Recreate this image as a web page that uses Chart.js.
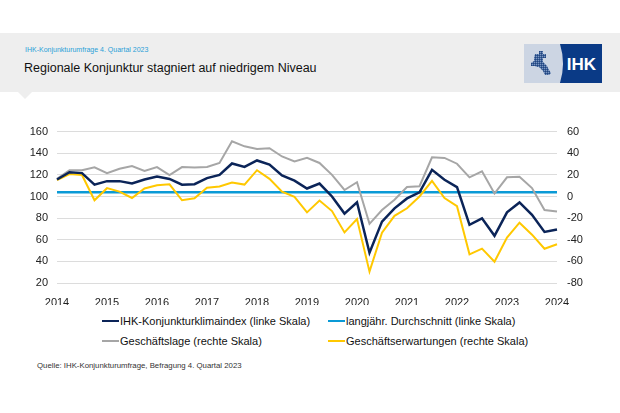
<!DOCTYPE html>
<html lang="de">
<head>
<meta charset="utf-8">
<script src="https://cdn.jsdelivr.net/npm/chart.js@4"></script>
<style>
    body { margin: 0; width: 620px; height: 413px; background: #fff; font-family: "Liberation Sans", Arial, sans-serif; position: relative; overflow: hidden; }
    .band { position: absolute; left: 0; top: 33px; width: 620px; height: 59px; background: #eeeeee; }
    .pointer { position: absolute; left: 18px; top: 92px; width: 0; height: 0; border-left: 7px solid transparent; border-right: 7px solid transparent; border-top: 7px solid #eeeeee; }
    .subtitle { position: absolute; left: 25px; top: 46px; font-size: 7px; color: #2a9fd8; }
    .title { position: absolute; left: 24px; top: 61px; font-size: 12.5px; color: #111; }
    .logo { position: absolute; left: 524px; top: 44px; width: 78px; height: 39px; background: #ccd5e3; overflow: hidden; }
    .chart-box { position: absolute; left: 0; top: 115px; width: 620px; height: 190px; }
    .legend { position: absolute; font-size: 11px; color: #111; }
    .legend span.line { display: inline-block; width: 17px; height: 2.5px; vertical-align: middle; margin-right: 1px; position: relative; top: -1px; }
    .source { position: absolute; left: 37px; top: 361px; font-size: 7.8px; color: #333; }
</style>
</head>
<body>
<div class="band"></div>
<div class="pointer"></div>
<div class="subtitle">IHK-Konjunkturumfrage 4. Quartal 2023</div>
<div class="title">Regionale Konjunktur stagniert auf niedrigem Niveau</div>
<div class="logo">
    <svg width="78" height="39" viewBox="0 0 78 39">
        <defs>
            <pattern id="px" width="2" height="2" patternUnits="userSpaceOnUse">
                <rect width="2" height="2" fill="#3b5f98"/>
                <rect width="1" height="1" fill="#7d97c0"/>
                <rect x="1" y="1" width="1" height="1" fill="#22467f"/>
            </pattern>
        </defs>
        <polygon points="11,10 15,10 15,7 19,7 19,10 22,10 22,14 19,14 19,18 23,22 25,26 27,29 25,31 21,31 19,27 17,25 15,23 13,23 11,22 7,22 7,19 10,17 10,14" fill="url(#px)"/>
        <path d="M36,0 L78,0 L78,39 L36,39 Q42,19.5 36,0 Z" fill="#0a3a86"/>
        <text x="57.5" y="26" text-anchor="middle" font-family="Liberation Sans, Arial" font-weight="bold" font-size="17" fill="#fff">IHK</text>
    </svg>
</div>
<div class="chart-box"><canvas id="konjunkturChart"></canvas></div>
<div class="legend" style="left:102px; top:315px;"><span class="line" style="background:#0b2458"></span>IHK-Konjunkturklimaindex (linke Skala)</div>
<div class="legend" style="left:328px; top:315px;"><span class="line" style="background:#0a9ad6"></span>langjähr. Durchschnitt (linke Skala)</div>
<div class="legend" style="left:102px; top:335px;"><span class="line" style="background:#a6a6a6"></span>Geschäftslage (rechte Skala)</div>
<div class="legend" style="left:328px; top:335px;"><span class="line" style="background:#ffc800"></span>Geschäftserwartungen (rechte Skala)</div>
<div class="source">Quelle: IHK-Konjunkturumfrage, Befragung 4. Quartal 2023</div>

<script>
// Quartale 2014 bis 2024, nur die Jahre werden beschriftet
const quartale = [
    '2014', '', '', '',
    '2015', '', '', '',
    '2016', '', '', '',
    '2017', '', '', '',
    '2018', '', '', '',
    '2019', '', '', '',
    '2020', '', '', '',
    '2021', '', '', '',
    '2022', '', '', '',
    '2023', '', '', '',
    '2024'
];

// linke Skala
const klimaindex = [
    115.7, 122.5, 121.6, 111.0, 114.2, 114.2, 112.1, 115.7,
    118.4, 116.2, 110.9, 111.4, 117.0, 119.9, 130.5, 127.4,
    133.3, 129.5, 119.5, 114.7, 107.4, 112.0, 100.0, 84.2,
    94.7, 48.0, 76.8, 89.0, 98.2, 103.8, 124.6, 115.5,
    108.6, 73.8, 79.8, 63.6, 85.3, 94.5, 83.1, 67.2, 69.5
];
const durchschnitt = 104;

// rechte Skala
const geschaeftslage = [
    16.3, 24.3, 24.3, 26.9, 21.6, 25.7, 28.1, 23.7,
    27.2, 19.8, 27.2, 26.9, 27.2, 31.0, 51.0, 46.4,
    44.0, 44.6, 37.0, 32.5, 35.7, 31.0, 20.0, 6.0,
    13.2, -25.3, -12.5, -3.0, 8.8, 9.5, 36.3, 35.7,
    30.3, 17.7, 23.3, 2.7, 17.7, 18.2, 7.8, -12.5, -13.8
];
const geschaeftserwartungen = [
    15.1, 20.7, 19.8, -3.5, 7.7, 4.5, -1.4, 7.4,
    10.4, 11.3, -3.5, -1.7, 8.0, 9.2, 13.0, 11.0,
    24.3, 16.3, 4.5, -0.4, -14.7, -3.7, -13.5, -33.2,
    -20.9, -69.5, -33.4, -17.9, -10.9, 0.0, 14.5, -1.4,
    -9.0, -53.5, -48.2, -60.4, -38.0, -24.2, -35.3, -48.3, -44.2
];

const tickFont = { family: '"Liberation Sans", Arial, sans-serif', size: 11 };

document.addEventListener('DOMContentLoaded', function() {
    const ctx = document.getElementById('konjunkturChart').getContext('2d');
    new Chart(ctx, {
        type: 'line',
        data: {
            labels: quartale,
            datasets: [
                {
                    label: 'langjähr. Durchschnitt (linke Skala)',
                    data: quartale.map(() => durchschnitt),
                    borderColor: '#0a9ad6',
                    borderWidth: 2.5,
                    yAxisID: 'y',
                    order: 4
                },
                {
                    label: 'Geschäftslage (rechte Skala)',
                    data: geschaeftslage,
                    borderColor: '#a6a6a6',
                    borderWidth: 2,
                    yAxisID: 'y2',
                    order: 3
                },
                {
                    label: 'Geschäftserwartungen (rechte Skala)',
                    data: geschaeftserwartungen,
                    borderColor: '#ffc800',
                    borderWidth: 2,
                    yAxisID: 'y2',
                    order: 2
                },
                {
                    label: 'IHK-Konjunkturklimaindex (linke Skala)',
                    data: klimaindex,
                    borderColor: '#0b2458',
                    borderWidth: 2.5,
                    yAxisID: 'y',
                    order: 1
                }
            ]
        },
        options: {
            responsive: true,
            maintainAspectRatio: false,
            animation: false,
            elements: {
                point: { radius: 0 },
                line: { tension: 0, borderJoinStyle: 'miter' }
            },
            layout: { padding: { top: 10, left: 0, right: 0, bottom: 0 } },
            plugins: {
                legend: { display: false },
                tooltip: { enabled: false }
            },
            scales: {
                x: {
                    grid: { display: false },
                    border: { display: false },
                    ticks: {
                        autoSkip: false,
                        maxRotation: 0,
                        padding: 5,
                        color: '#222',
                        font: tickFont
                    },
                    afterFit: function(scale) { scale.height = 22; }
                },
                y: {
                    position: 'left',
                    min: 20,
                    max: 160,
                    grid: { color: '#dcdcdc', drawTicks: false },
                    border: { display: false },
                    ticks: { stepSize: 20, padding: 9, color: '#222', font: tickFont },
                    afterFit: function(scale) { scale.width = 57; }
                },
                y2: {
                    position: 'right',
                    min: -80,
                    max: 60,
                    grid: { drawOnChartArea: false, drawTicks: false },
                    border: { display: false },
                    ticks: { stepSize: 20, padding: 10, color: '#222', font: tickFont },
                    afterFit: function(scale) { scale.width = 63; }
                }
            }
        }
    });
});
</script>
</body>
</html>
